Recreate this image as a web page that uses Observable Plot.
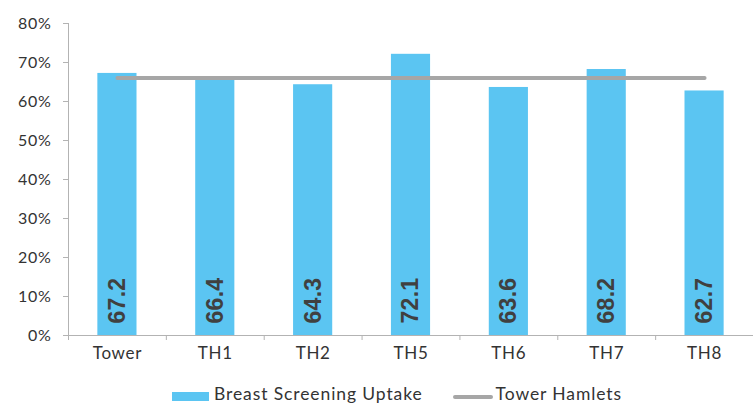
<!DOCTYPE html>
<html>
<head>
<meta charset="utf-8">
<script src="https://cdn.jsdelivr.net/npm/d3@7"></script>
<script src="https://cdn.jsdelivr.net/npm/@observablehq/plot@0.6"></script>
<style>
  body { margin: 0; background: #fff; font-family: Lato, "Open Sans", sans-serif; }
  #legend { display: flex; align-items: center; height: 27px; padding-left: 172px; font-size: 17.5px; letter-spacing: 0.9px; color: #333; font-family: Lato, sans-serif; }
  .sw { width: 37px; height: 9px; background: #5BC5F2; margin-right: 5px; margin-top: 6px; }
  .ln { width: 40px; height: 4px; background: #A6A6A6; border-radius: 2px; margin-right: 3px; margin-left: 30px; margin-top: 6px; }
  svg text { letter-spacing: 0.7px; }
  svg g[aria-label="text"] text { letter-spacing: 0.3px; }
</style>
</head>
<body>
<div id="chart"></div>
<div id="legend">
  <div class="sw"></div><span>Breast Screening Uptake</span>
  <div class="ln"></div><span>Tower Hamlets</span>
</div>
<script>
const categories = ["Tower", "TH1", "TH2", "TH5", "TH6", "TH7", "TH8"];
const uptake = [67.2, 66.4, 64.3, 72.1, 63.6, 68.2, 62.7];
const towerHamlets = 66.0;
const yTicks = [0, 10, 20, 30, 40, 50, 60, 70, 80];

const rows = categories.map((c, i) => ({ name: c, i, value: uptake[i] }));
const axisColor = "#b3b3b3";

const chart = Plot.plot({
  width: 753,
  height: 380,
  marginTop: 23,
  marginBottom: 45,
  marginLeft: 68,
  marginRight: 0,
  style: { fontFamily: "Lato, sans-serif", color: "#333", background: "#fff" },
  x: { type: "linear", domain: [0, categories.length], axis: null },
  y: { domain: [0, 80], axis: null },
  marks: [
    Plot.rectY(rows, { x1: d => d.i + 0.3, x2: d => d.i + 0.7, y: "value", fill: "#5BC5F2" }),
    Plot.frame({ anchor: "left", stroke: axisColor }),
    Plot.ruleY([0], { stroke: axisColor }),
    Plot.axisY({ ticks: yTicks, tickFormat: d => d + "%", tickSize: 5, tickPadding: 12, fontSize: 16, stroke: axisColor, fill: "#333", label: null }),
    Plot.axisX({ ticks: d3.range(0, categories.length + 1), tickFormat: () => "", tickSize: 5, stroke: axisColor, label: null }),
    Plot.axisX({ ticks: categories.map((c, i) => i + 0.5), tickFormat: v => categories[Math.floor(v)], tickSize: 0, tickPadding: 11, fontSize: 17, fill: "#333", label: null }),
    Plot.lineY(rows, { x: d => d.i + 0.5, y: () => towerHamlets, stroke: "#A6A6A6", strokeWidth: 4, strokeLinecap: "round" }),
    Plot.text(rows, { x: d => d.i + 0.5, y: 0, text: d => d.value.toFixed(1), rotate: -90, textAnchor: "start", dy: -12,
      fontWeight: "bold", fontSize: 23, fill: "#404040", fontFamily: "Liberation Sans, Arial, sans-serif" })
  ]
});
document.getElementById("chart").appendChild(chart);
</script>
</body>
</html>
